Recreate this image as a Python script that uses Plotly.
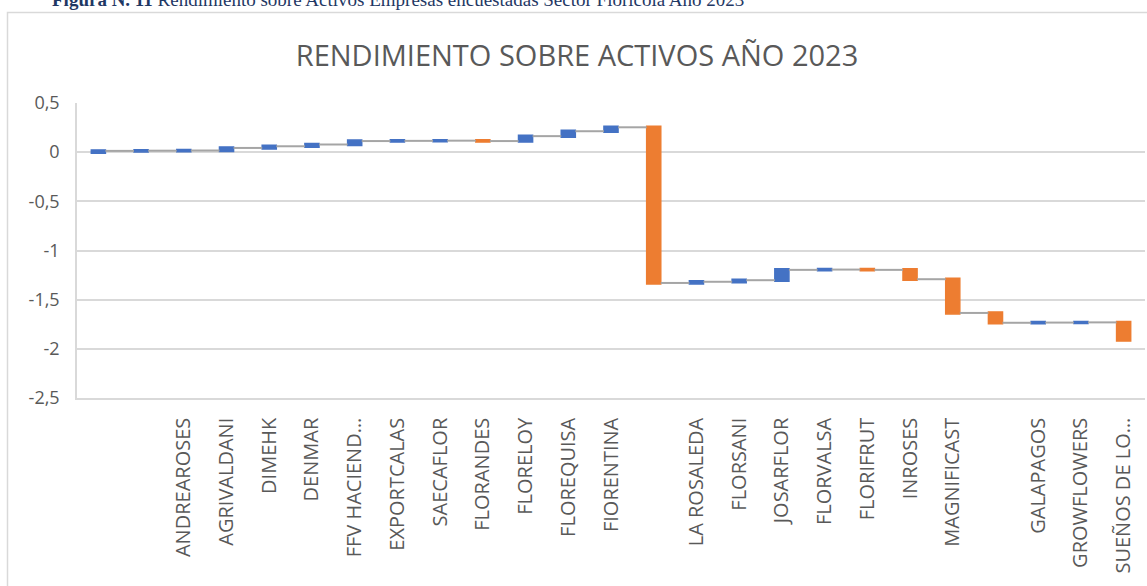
import plotly.graph_objects as go

# ---- data ----
labels = ["", "", "ANDREAROSES", "AGRIVALDANI", "DIMEHK", "DENMAR", "FFV HACIEND…",
          "EXPORTCALAS", "SAECAFLOR", "FLORANDES", "FLORELOY", "FLOREQUISA", "FIORENTINA",
          "", "LA ROSALEDA", "FLORSANI", "JOSARFLOR", "FLORVALSA", "FLORIFRUT", "INROSES",
          "MAGNIFICAST", "", "GALAPAGOS", "GROWFLOWERS", "SUEÑOS DE LO…"]
values = [0.013, 0.002, 0.002, 0.026, 0.017, 0.018, 0.035,
          0.002, 0.002, -0.004, 0.05, 0.05, 0.04,
          -1.583, 0.012, 0.016, 0.105, 0.003, -0.003, -0.095,
          -0.343, -0.10, 0.002, 0.002, -0.18]
y_ticks = [0.5, 0, -0.5, -1, -1.5, -2, -2.5]
y_ticktext = ["0,5", "0", "-0,5", "-1", "-1,5", "-2", "-2,5"]
title_text = "RENDIMIENTO SOBRE ACTIVOS AÑO 2023"

W, H = 1147, 586
ML, MR, MT, MB = 77, 2, 103, 188
PW, PH = W - ML - MR, H - MT - MB

def px_x(p):
    return (p - ML) / PW

def px_y(p):
    return (H - MB - p) / PH

BLUE = "#4472C4"
ORANGE = "#ED7D31"
GRAY = "#A5A5A5"
TXT = "#595959"
GRID = "#D9D9D9"

xs = list(range(len(labels)))

fig = go.Figure(go.Waterfall(
    x=xs,
    y=values,
    measure=["relative"] * len(values),
    increasing=dict(marker=dict(color=BLUE, line=dict(color=BLUE, width=1.5))),
    decreasing=dict(marker=dict(color=ORANGE, line=dict(color=ORANGE, width=1.5))),
    connector=dict(mode="between", line=dict(color=GRAY, width=2)),
    showlegend=False,
    hoverinfo="skip",
))

fig.update_layout(
    width=W, height=H,
    margin=dict(l=ML, r=MR, t=MT, b=MB, pad=0),
    paper_bgcolor="white",
    plot_bgcolor="white",
    waterfallgap=0.67,
    font=dict(family="Open Sans", color=TXT),
    title=dict(text=title_text, xref="container", yref="container",
               x=577 / W, y=1 - 56 / H, xanchor="center", yanchor="middle",
               font=dict(family="Open Sans", size=29, color=TXT)),
)

fig.update_xaxes(
    tickmode="array", tickvals=xs, ticktext=labels, tickangle=-90,
    range=[-0.5, len(labels) - 0.5], automargin=False,
    showgrid=False, zeroline=False,
    showline=True, linecolor=GRID, linewidth=1.5,
    ticks="outside", ticklen=10, tickcolor="rgba(0,0,0,0)",
    tickfont=dict(family="Open Sans", size=20, color=TXT),
)
fig.update_yaxes(
    tickmode="array", tickvals=y_ticks, ticktext=y_ticktext,
    range=[-2.5, 0.5], automargin=False,
    showgrid=True, gridcolor=GRID, gridwidth=1.5, zeroline=False,
    showline=True, linecolor=GRID, linewidth=1.5,
    ticks="outside", ticklen=12, tickcolor="rgba(0,0,0,0)",
    tickfont=dict(family="Open Sans", size=18, color=TXT),
)

# chart border (partly outside the picture, as in the reference)
fig.add_shape(type="rect", xref="paper", yref="paper",
              x0=px_x(7.5), x1=px_x(1160), y0=px_y(12.5), y1=px_y(700),
              line=dict(color=GRID, width=1.5), fillcolor="rgba(0,0,0,0)", layer="below")

# document caption cut off at the top
fig.add_annotation(
    xref="paper", yref="paper", x=px_x(50), y=px_y(12),
    xanchor="left", yanchor="bottom", showarrow=False,
    text="<b>Figura N. 11</b> Rendimiento sobre Activos Empresas encuestadas Sector Florícola Año 2023",
    font=dict(family="Liberation Serif", size=19, color="#1F3864"),
)

fig.write_html("out.html", config={"displayModeBar": False},
               post_script="document.body.style.margin='0';")
